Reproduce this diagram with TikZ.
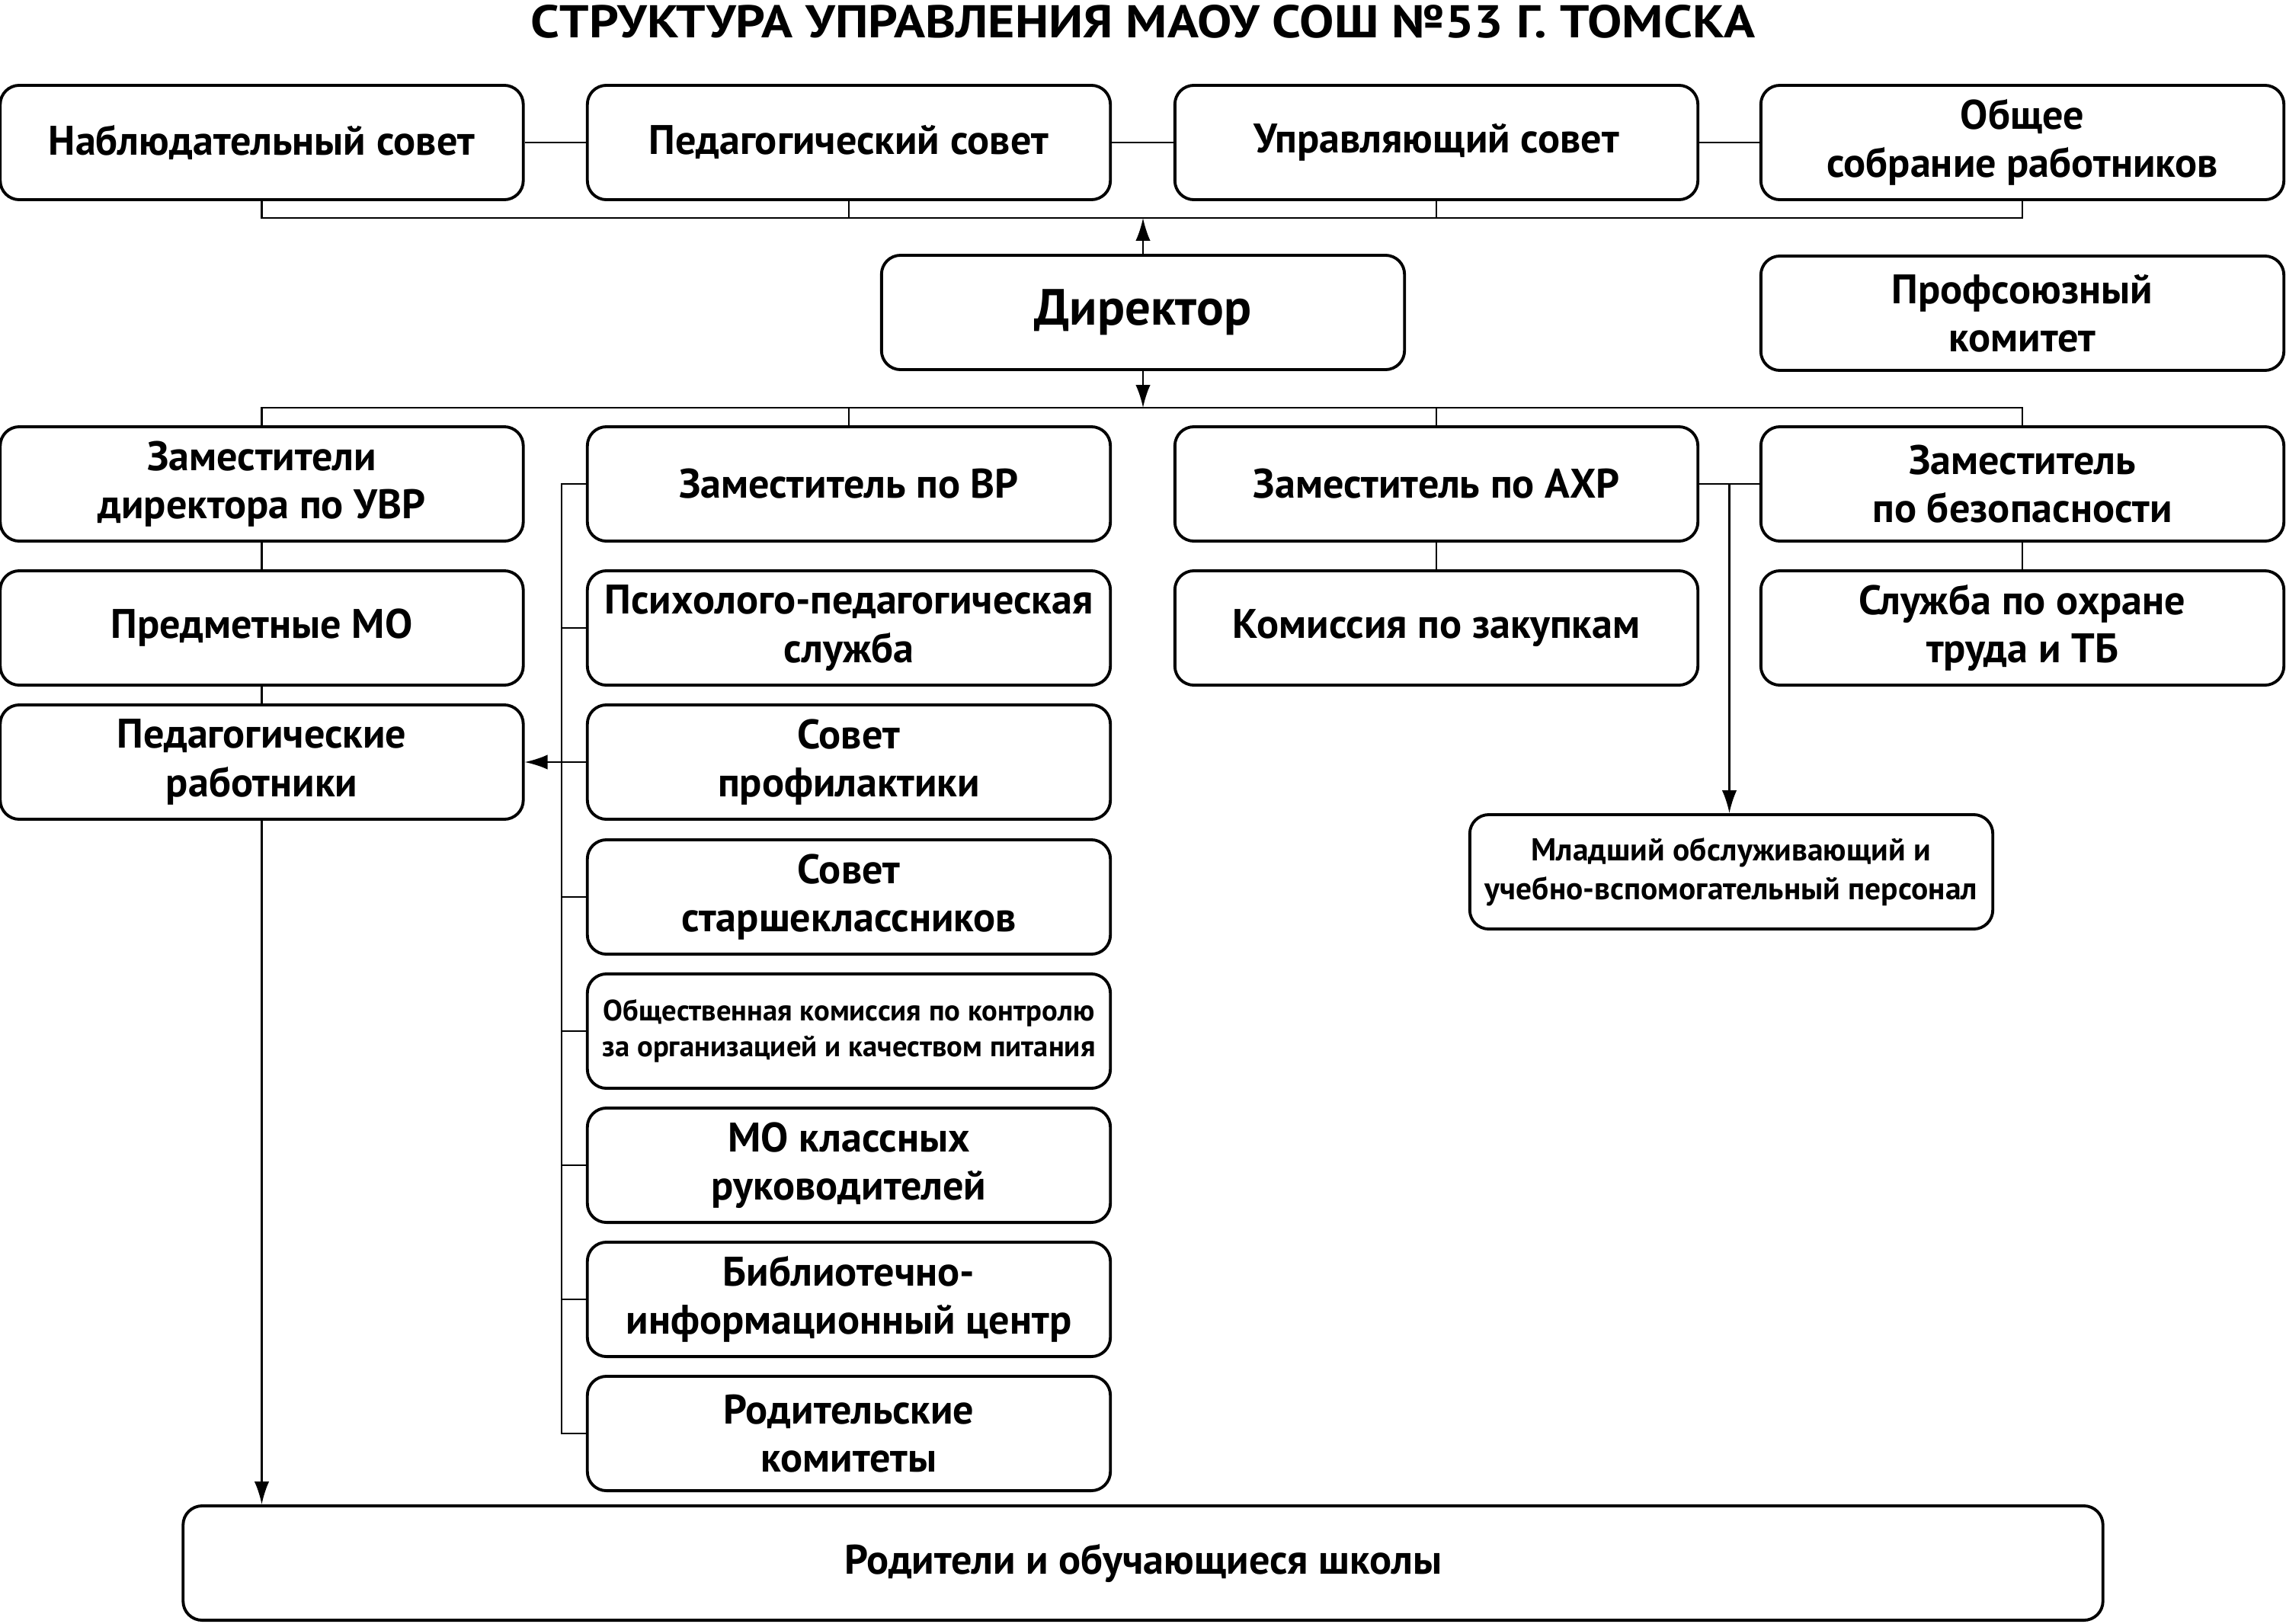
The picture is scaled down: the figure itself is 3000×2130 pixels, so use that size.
\documentclass[tikz,border=0pt]{standalone}
\usepackage{fontspec}
\setmainfont{PT Sans}
\usetikzlibrary{arrows.meta,calc}
\tikzset{
  box/.style={draw, line width=1.1pt, rounded corners=0.25cm, minimum width=6.86cm,
    minimum height=1.5cm, align=center, inner sep=2pt,
    font=\fontsize{15.4}{18}\selectfont\bfseries},
  smallbox/.style={box, font=\fontsize{11}{13.5}\selectfont\bfseries},
  con/.style={line width=0.7pt},
  arr/.style={con, -{Latex[length=8.5pt,width=5.5pt]}}
}
\begin{document}
\begin{tikzpicture}[x=0.01cm,y=-0.01cm]
\useasboundingbox (0,0) rectangle (3000,2130);
% title
\node[anchor=base, inner sep=0] (title) at (1500,50)
  {\resizebox{16.05cm}{0.43cm}{\bfseries СТРУКТУРА УПРАВЛЕНИЯ МАОУ СОШ №53 Г. ТОМСКА}};
% row 1
\node[box] (n1) at (343.5,187) {Наблюдательный совет};
\node[box] (n2) at (1114,187) {Педагогический совет};
\node[box] (n3) at (1885,187) {Управляющий совет};
\node[box] (n4) at (2654,187) {Общее\\собрание работников};
% director row
\node[box, font=\fontsize{19}{22}\selectfont\bfseries] (dir) at (1500,410) {Директор};
\node[box] (prof) at (2654,411) {Профсоюзный\\комитет};
% row 3
\node[box] (uvr) at (343.5,635) {Заместители\\директора по УВР};
\node[box] (vr) at (1114,635) {Заместитель по ВР};
\node[box] (ahr) at (1885,635) {Заместитель по АХР};
\node[box] (bez) at (2654,635) {Заместитель\\по безопасности};
% row 4
\node[box] (mo) at (343.5,824) {Предметные МО};
\node[box] (psy) at (1114,824) {Психолого-педагогическая\\служба};
\node[box] (zak) at (1885,824) {Комиссия по закупкам};
\node[box] (ohr) at (2654,824) {Служба по охране\\труда и ТБ};
% left and middle columns
\node[box] (ped) at (343.5,1000) {Педагогические\\работники};
\node[box] (sp) at (1114,1000) {Совет\\профилактики};
\node[box] (star) at (1114,1177) {Совет\\старшеклассников};
\node[smallbox] (obsh) at (1114,1353) {Общественная комиссия по контролю\\за организацией и качеством питания};
\node[box] (mok) at (1114,1529) {МО классных\\руководителей};
\node[box] (bib) at (1114,1705) {Библиотечно-\\информационный центр};
\node[box] (rodk) at (1114,1881) {Родительские\\комитеты};
% right
\node[box, font=\fontsize{11.8}{14.5}\selectfont\bfseries] (mlad) at (2272,1144) {Младший обслуживающий и\\учебно-вспомогательный персонал};
% bottom
\node[box, minimum width=25.18cm] (rod) at (1500,2051) {Родители и обучающиеся школы};

% connectors row 1
\draw[con] (n1) -- (n2);
\draw[con] (n2) -- (n3);
\draw[con] (n3) -- (n4);
\coordinate (tb) at (1500,286);
\draw[con] (n1.south) |- (tb) -| (n4.south);
\draw[con] (n2.south) -- (n2.south |- tb);
\draw[con] (n3.south) -- (n3.south |- tb);
\draw[arr] (dir.north) -- (tb);
% lower bus
\coordinate (bb) at (1500,535);
\draw[con] (uvr.north) |- (bb) -| (bez.north);
\draw[con] (vr.north) -- (vr.north |- bb);
\draw[con] (ahr.north) -- (ahr.north |- bb);
\draw[arr] (dir.south) -- (bb);
% verticals
\draw[con] (uvr) -- (mo);
\draw[con] (mo) -- (ped);
\draw[con] (ahr) -- (zak);
\draw[con] (bez) -- (ohr);
% AHR - bez and arrow to mlad
\draw[con] (ahr.east) -- (bez.west);
\coordinate (am) at ($(ahr.east)!0.5!(bez.west)$);
\draw[arr] (am) -- (am |- mlad.north);
% bracket
\coordinate (br) at (737,0);
\draw[con] (vr.west) -- (vr.west -| br) -- (rodk.west -| br) -- (rodk.west);
\foreach \n in {psy,star,obsh,mok,bib}{
  \draw[con] (\n.west) -- (\n.west -| br);
}
\draw[arr] (sp.west) -- (ped.east);
\draw[arr] (ped.south) -- (ped.south |- rod.north);
\end{tikzpicture}
\end{document}
